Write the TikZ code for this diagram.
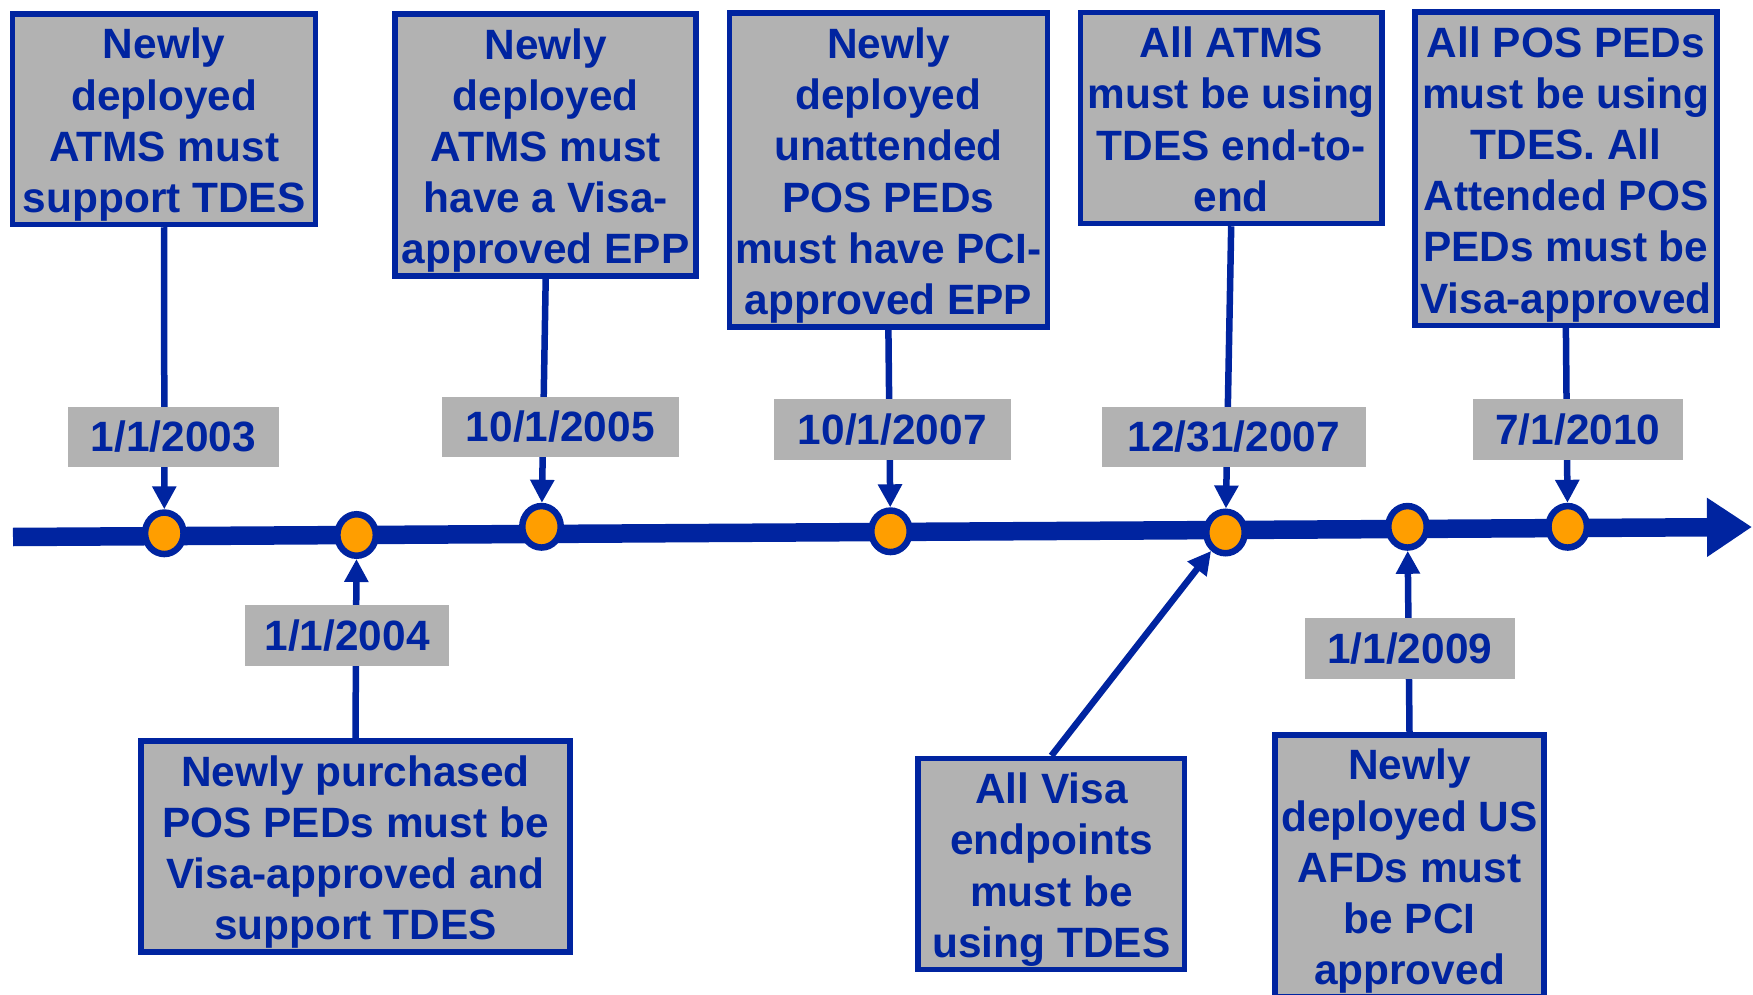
\documentclass[tikz,border=0pt]{standalone}
\usepackage{fontspec}
\setmainfont{Liberation Sans}
\usetikzlibrary{arrows.meta,shapes.geometric}
\definecolor{tlblue}{RGB}{0,36,160}
\definecolor{tlgray}{RGB}{178,178,178}
\definecolor{tlorange}{RGB}{255,158,0}
% struts that fix the space above the first and below the last line of a box
\newcommand{\tlTopStrut}{\rule{0pt}{22.5pt}}
\newcommand{\tlBotStrut}{\rule[-6pt]{0pt}{6pt}}

\begin{document}
\begin{tikzpicture}[x=0.5pt,y=-0.5pt,
  every node/.style={text=tlblue, font=\fontsize{21.2pt}{25.6pt}\selectfont\bfseries,
    inner sep=0pt, align=center},
  note/.style={draw=tlblue, line width=2.75pt, fill=tlgray},
  datelabel/.style={fill=tlgray},
  event/.style={ellipse, draw=tlblue, line width=3.25pt, fill=tlorange,
    minimum width=19.25pt, minimum height=20.75pt},
  link/.style={draw=tlblue, line width=3.25pt, -{Triangle[length=11.5pt,width=11.5pt]}},
  axis/.style={draw=tlblue, line width=9.25pt, -{Triangle[length=22.5pt,width=28pt]}}
]
\useasboundingbox (0,0) rectangle (1753,995);
\clip (0,0) rectangle (1753,995);

% time axis
\coordinate (axisstart) at (13,537);
\coordinate (axisend) at (1752,527);
\draw[axis] (axisstart) -- (axisend);

% milestones on the axis
\node[event] (d1) at (164.3,533.3) {};
\node[event] (d2) at (356.6,535) {};
\node[event] (d3) at (541.5,526.8) {};
\node[event] (d4) at (890.5,531.3) {};
\node[event] (d5) at (1225.5,532.5) {};
\node[event] (d6) at (1407.5,526.8) {};
\node[event] (d7) at (1567.7,526.8) {};

% requirement boxes above the axis
\node[note, minimum width=151.5pt, minimum height=105.3pt] (b1) at (164.2,119.2)
  {\tlTopStrut Newly\\deployed\\ATMS must\\support TDES\tlBotStrut};
\node[note, minimum width=150.5pt, minimum height=131pt] (b2) at (545.7,145)
  {\tlTopStrut Newly\\deployed\\ATMS must\\have a Visa-\\approved EPP\tlBotStrut};
\node[note, minimum width=159pt, minimum height=156.8pt] (b3) at (888.4,170)
  {\tlTopStrut Newly\\deployed\\unattended\\POS PEDs\\must have PCI-\\approved EPP\tlBotStrut};
\node[note, minimum width=150.8pt, minimum height=105.5pt] (b4) at (1231.2,118)
  {\tlTopStrut All ATMS\\must be using\\TDES end-to-\\end\tlBotStrut};
\node[note, minimum width=151pt, minimum height=156.8pt] (b5) at (1565.9,168.6)
  {\tlTopStrut All POS PEDs\\must be using\\TDES. All\\Attended POS\\PEDs must be\\Visa-approved\tlBotStrut};

% requirement boxes below the axis
\node[note, minimum width=214.5pt, minimum height=105.5pt] (b6) at (355.5,846.3)
  {\tlTopStrut Newly purchased\\POS PEDs must be\\Visa-approved and\\support TDES\tlBotStrut};
\node[note, minimum width=133.3pt, minimum height=105.5pt] (b7) at (1051.4,864)
  {\tlTopStrut All Visa\\endpoints\\must be\\using TDES\tlBotStrut};
\node[note, minimum width=134.7pt, minimum height=131pt] (b8) at (1409.5,865.8)
  {\tlTopStrut Newly\\deployed US\\AFDs must\\be PCI\\approved\tlBotStrut};

% connectors
\draw[link] (b1.south) -- (d1);
\draw[link] (b2.south) -- (d3);
\draw[link] (b3.south) -- (d4);
\draw[link] (b4.south) -- (d5);
\draw[link] (b5.south) -- (d7);
\draw[link] (b6.north) -- (d2);
\draw[link] (b7.north) -- (d5);
\draw[link] (b8.north) -- (d6);

% date labels over the connectors
\node[datelabel, minimum width=105.35pt, minimum height=30pt] (l1) at (173.4,437) {1/1/2003};
\node[datelabel, minimum width=118.3pt, minimum height=30pt] (l2) at (560.3,427) {10/1/2005};
\node[datelabel, minimum width=118.35pt, minimum height=30.3pt] (l3) at (892.3,429.3) {10/1/2007};
\node[datelabel, minimum width=131.85pt, minimum height=30pt] (l4) at (1233.9,437) {12/31/2007};
\node[datelabel, minimum width=104.9pt, minimum height=30.3pt] (l5) at (1577.8,429.3) {7/1/2010};
\node[datelabel, minimum width=102.3pt, minimum height=30.35pt] (l6) at (347.1,635.3) {1/1/2004};
\node[datelabel, minimum width=105.1pt, minimum height=30.35pt] (l7) at (1409.7,648.3) {1/1/2009};
\end{tikzpicture}
\end{document}
